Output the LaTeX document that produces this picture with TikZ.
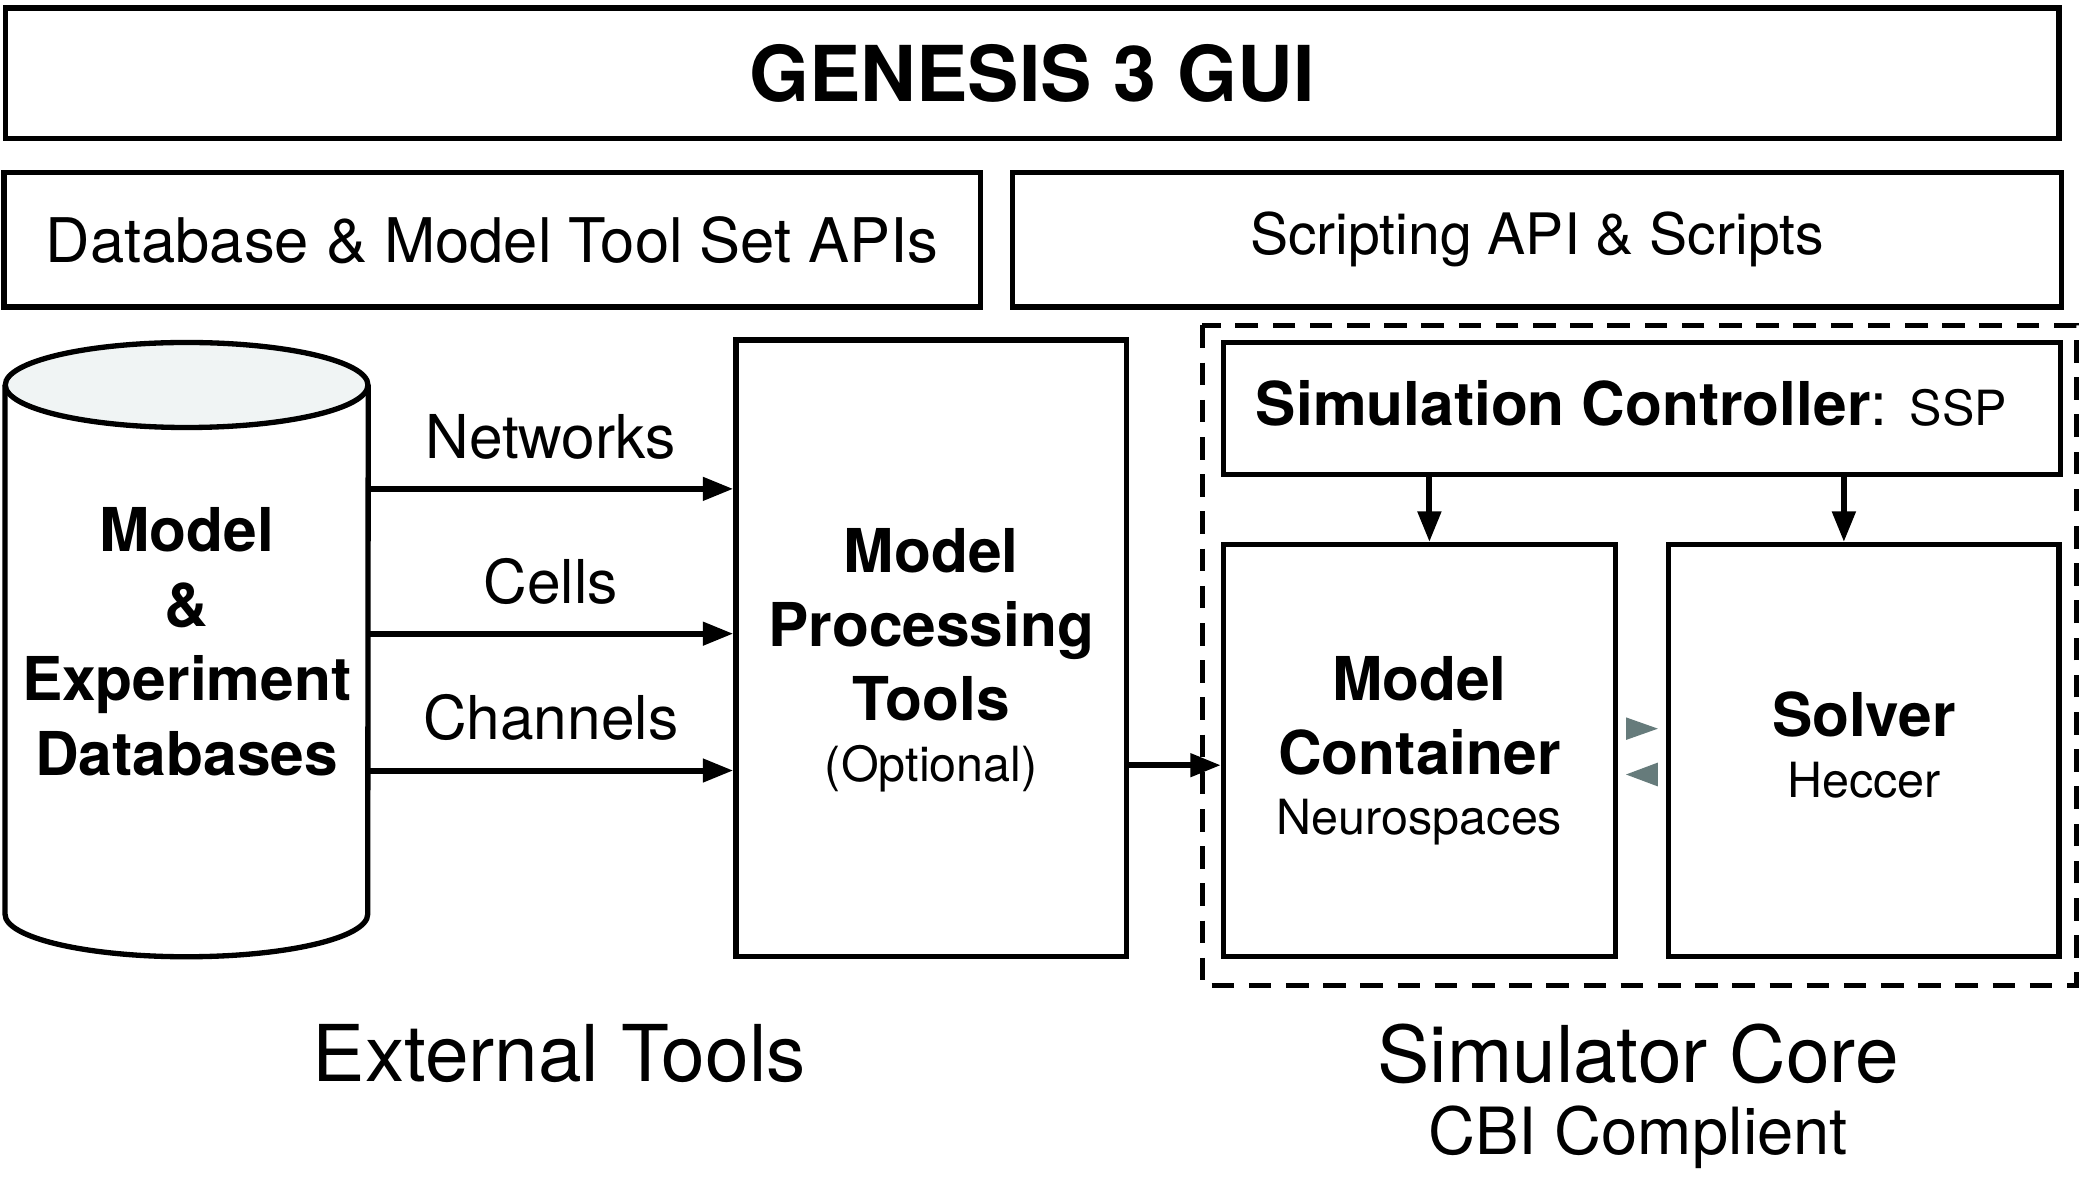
\documentclass[tikz,border=0pt]{standalone}
\usepackage{fontspec}
\setmainfont{TeX Gyre Heros}
\usepackage{tikz}
\usetikzlibrary{arrows.meta}
\definecolor{tipgray}{HTML}{667B7B}
\definecolor{topgray}{HTML}{F0F4F4}
\newcommand\szTitle{\fontsize{58}{70}\selectfont\bfseries}
\newcommand\szMain{\fontsize{45.5}{56}\selectfont}
\newcommand\szSmall{\fontsize{36.5}{44}\selectfont}
\newcommand\szFoot{\fontsize{59}{62}\selectfont}

\begin{document}
\begin{tikzpicture}[x=1pt,y=-1pt]
\useasboundingbox (0,0) rectangle (1568,895);
\tikzset{
  box/.style={draw, line width=4pt, inner sep=0pt, align=center},
  arr/.style={line width=4.5pt, -{Triangle[length=23pt,width=17pt]}},
}

\node[box, minimum width=1546pt, minimum height=98pt, font=\szTitle] (gui) at (777,55) {GENESIS 3 GUI};
\node[box, minimum width=735pt, minimum height=101pt, font=\fontsize{46.3}{53}\selectfont] (dbapi) at (370.5,180.5) {Database \& Model Tool Set APIs};
\node[box, minimum width=790pt, minimum height=101pt, font=\fontsize{43}{53}\selectfont] (scripts) at (1157,180.5) {Scripting API \& Scripts};

% database cylinder
\node[minimum width=273pt, minimum height=398pt, inner sep=0pt] (db) at (140.5,489) {};
\draw[line width=4pt] (db.north west) -- (db.south west) arc[start angle=180, end angle=0, x radius=136.5, y radius=32] -- (db.north east);
\draw[line width=4pt, fill=topgray] (db.north) ellipse[x radius=136.5, y radius=32];
\node[align=center, font=\szMain\bfseries] (dbtext) at ([yshift=6pt]db.center) {Model\\\&\\Experiment\\Databases};

\node[box, minimum width=294pt, minimum height=464pt] (proc) at (701,488) {};
\node[align=center, font=\szMain\bfseries] (proctext) at ([yshift=-9pt]proc.center) {Model\\Processing\\Tools\\[-10pt]{\szSmall\mdseries (Optional)}};

\foreach \dy/\lab in {121/Networks, 12/Cells, -91/Channels}
  \draw[arr] ([yshift=\dy pt]db.east) -- ([yshift=\dy pt]db.east -| proc.west)
    node[midway, above=20pt, inner sep=0pt, font=\szMain] {\lab};

% simulator core
\draw[line width=3.5pt, dash pattern=on 17pt off 11pt] (905,245) rectangle (1563,742);
\node[box, minimum width=630pt, minimum height=99pt] (ctrl) at (1236,307.5) {};
\node[font=\szMain] (ctrltext) at ([xshift=-8pt,yshift=4pt]ctrl.center) {\textbf{Simulation Controller}: {\szSmall SSP}};
\node[box, minimum width=295pt, minimum height=310pt, font=\szMain\bfseries] (cont) at (1068.5,565) {Model\\Container\\[-11pt]{\szSmall\mdseries Neurospaces}};
\node[box, minimum width=294pt, minimum height=310pt] (solver) at (1403,565) {};
\node[align=center, font=\szMain\bfseries] (solvertext) at ([yshift=4pt]solver.center) {Solver\\[-10pt]{\szSmall\mdseries Heccer}};

\draw[arr] ([xshift=7.5pt]cont.north |- ctrl.south) -- ([xshift=7.5pt]cont.north);
\draw[arr] ([xshift=-15pt]solver.north |- ctrl.south) -- ([xshift=-15pt]solver.north);
\draw[arr] ([yshift=-11pt]cont.west -| proc.east) -- ([yshift=-11pt]cont.west);

\fill[tipgray] (1224,540) -- (1248,548.5) -- (1224,557) -- cycle;
\fill[tipgray] (1248,574) -- (1224,583) -- (1248,592) -- cycle;

\node[font=\szFoot] (ext) at (421,793) {External Tools};
\node[font=\szFoot] (core) at (1233,793) {Simulator Core};
\node[font=\fontsize{49}{58}\selectfont] (cbi) at (1233,856) {CBI Complient};
\end{tikzpicture}
\end{document}
